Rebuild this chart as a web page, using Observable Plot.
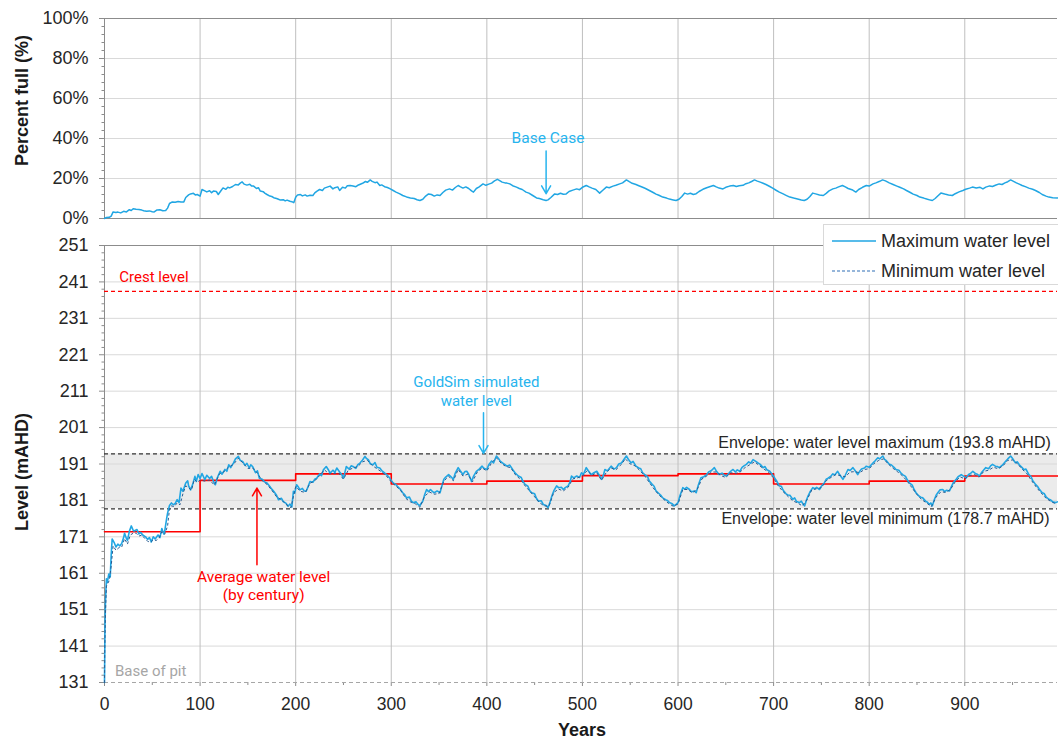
<!DOCTYPE html>
<html><head><meta charset="utf-8">
<script src="https://cdn.jsdelivr.net/npm/d3@7"></script>
<script src="https://cdn.jsdelivr.net/npm/@observablehq/plot@0.6"></script>
<style>
body{margin:0;background:#fff;}
#wrap{position:relative;width:1058px;height:740px;overflow:hidden;font-family:"Liberation Sans",Arial,sans-serif;}
#top{position:absolute;left:0;top:0;}
#bot{position:absolute;left:0;top:235px;}
#legend{position:absolute;left:823px;top:224px;width:240px;height:61px;background:#fff;border:1px solid #d9d9d9;box-sizing:border-box;}
#legend .row{position:absolute;left:8px;height:20px;display:flex;align-items:center;font-size:18px;color:#262626;white-space:nowrap;}
#legend svg{margin-right:5px;}
</style>
</head><body>
<div id="wrap"><div id="top"></div><div id="bot"></div>
<div id="legend">
<div class="row" style="top:6px"><svg width="44" height="6"><line x1="0" y1="3" x2="44" y2="3" stroke="#21a6e3" stroke-width="1.5"/></svg><span>Maximum water level</span></div>
<div class="row" style="top:36px"><svg width="44" height="6"><line x1="0" y1="3" x2="44" y2="3" stroke="#2e6fb5" stroke-width="1.2" stroke-dasharray="3,2"/></svg><span>Minimum water level</span></div>
</div>
</div>
<script>
// ---------- data ----------
const years = [
0,0.5,1,2,3,4.5,6,7,8,10,12,14,16,18,20,21,23,24,26,28,30,31,34,36,38,40,43,45,47,49,51,53,56,58,60,62,63,65,66,68,70,72,74,76,78,80,82,85,87,88,90,92,94.6,96,98,100,
102,105,107,110,112,114,116,118,121,123,126,128,130,132,135,137,140,142,144.5,147,149,151.5,153,155,158,160,162,165,168,170,173,175,177,180,182,185,187,190,192,194,196,197.6,199,
201,203,204.5,207,209,211,213,215,218,220,222,225,227,229,232,234,236,239,241,243,246,248,250,253,256,258,260,263,265,267,270,272.5,274,276,278,281,283,285,288,290,292,295,298,300,
302,305,307,309,312,314,316,319,321,323,326,328,330,331,333,335,337,339,341,343,345,348,351,353,355,357,360,362,365,367,370,372,375,377,379,381,384,386,389,392,395,397,400,
402,405,407,410,412,414,417,419,421,424,427,430,433,436,438,440,443,445,447,450,452,454,457,459,462,464,466,468,470,473,475,478,480,482,485,487,488.6,491,494,497,499,
501,504,506,509,512,515,517,520,522,523.5,526,530,533,535.6,538,540.8,543,546,548,551,553,556,559,561,563,566,568,570,573,575,577,580,582,584,587,589,591,594,596,598,600,
602,605,607,609,612,614,617,619,621,624,627,630,632,635,638,640,643,646,648,650.6,653,655,657.6,660,662,664.6,667,669,671.5,674,676,678.5,681,683.7,686,689,691,693,696,698,701,
703,706,708,710,713,715,717,720,722,724,727,729,731,732.5,734,736,738,741,743,745,748,750,753,755,757,760,762,764,767,769,772.5,775,777.8,780,783,785,788,790,792,795,797,800,
802,804,806,809,811,814.3,816,818,821,823,826,828,831,833,835,838,840,842,845,847,849,852,854,856,859,861,863,864.5,866,868,870,871.8,874,877,879,881,884,886,888,891,893,896.3,899,
901.4,904,906,908.4,911,913,915.4,918,920,922,925,927,929,932,934,936,939,941,943,945,948,950,953,955,957,960,962,964,967,969,971,974,976,978,981,983,985,988,990,992,995,997];
const maxLevel = [
131,146,153,159.5,158.5,160.8,160,166,170.4,169.5,168.2,169,168.5,169.2,170.8,172,170.5,170,172.5,174,172.8,172.6,173,171.8,172.2,171.5,171,170.3,170.8,169.6,171,170.4,171.5,170.8,173.3,171.8,172.6,176,177.5,179.6,180.3,179.8,180.2,181.2,180.4,184.4,183.5,185.8,186.4,185,183.9,185.2,187.6,186.2,188.1,187,
188.4,186.7,187.9,187,187.6,186.2,185.3,187.2,189,188.2,189.5,189,190.8,190,191.3,192.4,193.1,192,191.7,190.6,191.2,189.9,190.8,190.3,188.6,189.1,187.1,186.8,186,185.8,184.8,184.1,183.5,182.4,181.2,181.6,180.7,180.2,179.4,180,179.2,183.5,183,
185.3,184.6,183.9,184.3,183.6,183.5,184.8,186.2,186,186.8,187.1,188.3,187.8,189.4,190.3,189.5,188.5,189.3,188.7,189.9,188.8,188.2,187.1,190.3,189.6,190.5,190.3,189.8,190.8,191.2,192.1,193.1,192.5,192.2,191.1,190.8,191.4,190.1,189.9,189.2,188.8,188.1,187.3,186.5,
185.8,185.3,184.7,184.2,183.1,182.6,181.7,181.9,180.8,180.4,180.6,179.9,179.5,180.1,180.8,182.6,184,183.4,184,183.5,183.1,183.6,183.1,185,186.8,187.4,188.1,187.6,186.8,188.5,190,189.2,188.1,188.9,189,188.2,186.2,187.6,189,189.6,190.4,189.8,189.5,
190.8,191.8,191.3,193.2,192.6,191.8,191.2,190.8,190.4,190.7,189.5,188.4,187.7,187.3,186.1,185.4,184.9,183.6,183.1,182.8,181.5,180.8,180.9,179.9,179.6,179,180.4,182.2,183.6,185,184.5,184.6,184,184.5,185,186,187.7,187.2,187.7,187.3,188.6,
188.1,190,189.2,188.1,188.6,189,188.2,186.8,188,189.5,189.1,190.4,189.6,190,191,191.3,192.1,193.2,192.3,191.3,191.7,190.4,189.9,189.7,188.6,187.9,187.6,186.3,185.4,184.9,183.6,182.9,182.4,181.7,181.2,181,180.4,180.1,179.5,179.9,180.4,
182.3,184.5,184.1,184.6,184,183.4,183.6,183.1,185,187.2,187.5,188.1,188.8,189.2,190,189.1,188.1,188.5,188,187.7,188.4,189,189.5,188.8,189.4,189,190.1,190.5,190.9,191.6,191.2,192.2,191.8,191.3,190.9,190,190.3,189.4,189,188.3,187.2,
186.4,185,184.9,183.8,182.8,182.5,182.4,181.3,181.7,180.7,180.4,180.8,179.9,179.5,180.8,182.2,183.3,184.5,184.2,184.6,184,184.9,185.8,186.8,187.1,187.7,188.3,188,189,188.1,186.8,187.9,189.5,189.2,190,189.3,188.1,189,189.6,189.9,190.4,190.1,
190.7,191.3,191.8,192.7,192.4,193.2,192.3,191.9,190.9,190.8,190.1,189.5,189.3,188.6,188.1,187.6,186.6,185.8,185.2,184,183.1,182.2,181.9,181.7,180.8,180.5,179.9,180.3,179.5,181.1,182.4,183.1,183.9,184,183.4,183.8,183.6,184.8,185.9,186.8,187.5,188.1,187.6,
187.2,188.1,188.4,189,188.4,188.2,187.7,188.8,189.4,190,189.7,190.5,190.9,190.4,190.3,190,190.6,191.2,191.8,192.4,193.2,192.5,191.3,191.6,190.8,190,189.4,189.6,188.1,187.7,186.5,185.4,184.9,184.1,183.1,182.9,182,181.3,181.1,180.6,180.4,180.6];

const minYears = [
0,0.3,1,2,3,5,7,9,12,15,18,21,24,27,30,33,36,39,42,45,48,51,54,57,60,63,66,68,70,73,76,79,82,85,88,91,94,97,100,
105,110,115,120,125,130,135,140,145,150,155,160,165,170,175,180,185,190,195,200,
205,210,215,220,225,230,235,240,245,250,255,260,265,270,275,280,285,290,295,300,
305,310,315,320,325,330,335,340,345,350,355,360,365,370,375,380,385,390,395,400,
405,410,415,420,425,430,435,440,445,450,455,460,465,470,475,480,485,490,495,500,
505,510,515,520,525,530,535,540,545,550,555,560,565,570,575,580,585,590,595,600,
605,610,615,620,625,630,635,640,645,650,655,660,665,670,675,680,685,690,695,700,
705,710,715,720,725,730,735,740,745,750,755,760,765,770,775,780,785,790,795,800,
805,810,815,820,825,830,835,840,845,850,855,860,865,870,875,880,885,890,895,900,
905,910,915,920,925,930,935,940,945,950,955,960,965,970,975,980,985,990,995];
const minLevel = [
131,140,150,157.5,158,159,163,168.5,167.3,168,168.2,170.5,169,171.5,172,172,171.2,171.5,170.6,169.8,169.5,170.2,170,170.6,172.4,171.7,174,178.6,179.5,179.3,180.3,179.8,182.8,185,184.5,183.8,186.8,186,186.6,
186.3,186.6,185.2,188.2,188.9,190.2,190.9,192.6,191.2,189.8,189.9,188.5,186.4,185.4,183.8,182,181.2,179.9,179,184.8,
183.5,183.2,185.7,186.4,187.8,189.4,188.3,188.4,188.5,186.8,189.3,189.9,190.3,191.6,192,190.6,189.7,188.8,187.7,186.1,
184.9,183.7,181.6,180.6,180.1,179.1,182.2,183.3,182.7,182.9,186.3,187.6,186.4,189.5,187.7,188.2,186.1,188.8,189.9,189.1,
191.3,192.7,191.2,190.3,190,188,186.8,185,183.5,182,180.4,179.5,179.4,183.2,184.1,183.6,184.6,186.9,187.2,187.7,
189.2,187.9,188.6,186.5,188.7,189.9,189.4,190.7,192.4,191,190.5,189.2,187.8,185.9,184.1,182.5,181.3,180.2,179.4,180,
184,184,183.1,184,186.9,187.7,188.8,188.8,187.8,187.3,188.6,188.4,188.8,190,190.8,191.6,190.6,189.6,188.7,187.1,
184.9,183.4,182.1,180.9,180.3,179.5,181.2,183.9,184.2,184.5,186.4,187.3,188.1,187.8,187.5,188.8,188.9,188.6,189.5,189.7,
191.1,192,192.4,191,189.8,188.8,187.7,186.2,184.4,182.6,181.2,180.3,179.3,181.9,183.4,183.2,184,186.1,187.5,186.9,
187.8,188.1,187.4,189,189.3,190.1,189.7,190.5,192,192.1,191.1,189.6,188.3,186.4,184.6,183,181.6,180.7,180.1];

const pctYears = [
0,2,5,7,9,12,14,17,20,23,26,28,30,33,36,39,41,44,47,50,52,55,58,61,64,66,68,71,74,77,80,83,85,88,90,93,95,97,100,
102,105,107,110,112,114,117,119,122,124,127,129,131,134,137,140,142,144,146,149,152,154,156,159,161,163,166,168,170,173,175,177,180,182,184,187,189,191,194,196,198,
200,202,205,207,210,212,215,218,220,222,225,228,230,233,236,239,241,244,246,249,252,254,257,260,263,265,267,270,273,275,278,280,283,285,288,290,293,296,299,
302,305,309,312,316,320,324,327,330,333,336,339,342,345,348,351,354,357,361,364,367,370,372,375,378,381,384,386,389,392,396,399,
402,405,408,411,413,416,419,421,424,427,431,434,437,441,444,448,452,455,459,462,464,467,471,474,477,480,483,486,490,494,497,
500,504,507,510,514,518,521,525,528,532,535,539,542,546,549,552,556,559,563,566,570,574,577,580,584,588,591,595,598,
601,604,607,610,613,616,619,622,626,630,633,637,640,643,647,650,654,658,661,664,668,671,674,677,680,683,686,689,692,696,699,
703,706,710,713,717,721,725,729,732,735,738,741,744,748,752,755,758,762,765,768,772,775,778,782,786,789,793,797,
800,804,807,811,814,817,821,825,829,832,836,839,843,846,850,853,857,861,864,866,869,872,875,879,883,887,890,894,898,
901,905,908,912,916,919,922,926,929,932,936,939,942,945,948,951,954,957,960,964,967,971,974,978,981,985,988,992,997];
const pctFull = [
0,0.5,0.6,1.2,3.3,3.0,3.2,2.8,3.6,3.3,4.4,4.0,4.9,4.6,4.5,4.2,3.9,3.6,3.8,3.4,3.3,4.3,4.4,3.9,4.0,5.2,7.5,8.3,8.1,8.5,8.2,8.3,10.5,11.8,12.3,12.6,11.8,12.0,11.2,
14.5,13.8,13.3,13.9,12.9,13.7,13.5,12.0,14.0,15.3,14.6,15.6,15.3,16.0,17.0,16.8,17.7,18.3,17.2,16.7,17.1,16.2,16.2,15.0,15.4,13.7,13.4,12.6,12.0,11.2,11.0,10.4,10.0,9.6,9.2,9.4,8.8,9.2,8.6,8.4,7.9,
10.6,11.8,12.0,11.3,11.8,11.2,11.6,11.5,12.8,13.6,14.5,14.0,15.2,15.7,16.2,14.8,15.4,15.8,14.0,15.6,15.2,16.4,16.5,16.2,15.9,16.6,17.0,17.6,18.5,18.1,19.3,18.6,17.9,18.2,16.5,16.8,15.9,15.5,14.8,
14.0,13.2,12.3,11.5,10.8,10.3,10.0,9.4,9.0,9.6,11.2,12.3,12.0,11.2,11.8,11.5,13.0,14.2,14.8,14.2,15.5,16.5,15.9,15.2,15.8,15.0,13.8,13.2,15.0,15.8,17.3,16.6,
17.2,17.7,18.8,19.6,19.1,18.2,17.8,17.7,17.3,16.4,15.7,15.0,14.5,13.2,12.7,11.5,10.3,10.0,9.4,9.0,9.3,10.5,12.3,12.0,12.6,12.1,12.3,13.5,14.2,14.8,14.4,
15.6,16.5,15.8,15.2,14.5,12.7,14.0,15.7,15.4,16.2,16.6,17.3,17.8,19.3,18.4,17.6,17.0,16.4,15.6,15.0,14.0,13.0,12.2,11.6,10.7,10.2,9.7,9.3,9.0,
9.6,11.0,12.7,12.2,12.6,12.0,12.4,13.5,14.6,15.4,15.9,16.5,15.8,15.2,14.8,15.6,16.2,16.5,16.0,16.4,16.6,17.4,17.8,18.5,19.3,18.7,18.2,17.6,17.0,16.0,15.2,
14.0,13.2,12.3,11.6,10.7,10.2,9.8,9.3,9.0,9.6,11.0,12.7,12.3,11.8,11.5,12.6,13.8,14.8,15.2,15.8,16.5,15.8,15.0,14.4,13.2,14.5,15.6,16.5,
16.2,17.3,17.8,18.6,19.3,18.8,17.8,17.0,16.2,15.6,14.8,14.0,13.0,12.2,11.5,10.7,10.2,9.6,9.2,9.0,10.0,11.4,12.7,12.2,11.8,11.5,12.4,13.3,14.0,
14.6,15.2,15.7,15.2,15.6,14.8,15.7,16.3,16.0,16.6,17.3,17.0,17.8,18.4,19.3,18.6,17.8,17.2,16.5,15.8,15.2,14.6,14.0,13.0,12.0,11.2,10.7,10.4,10.3];

const centuryStart = [0,100,200,300,400,500,600,700,800,900];
const centuryAvg   = [172.4,186.5,188.3,185.5,186.3,187.8,188.3,185.5,186.3,187.7];
const yearEnd = 997;
const crestLevel = 238.4, envMax = 193.8, envMin = 178.7, basePit = 131;

const xTicks = [0,100,200,300,400,500,600,700,800,900];
const xMinor = [50,150,250,350,450,550,650,750,850,950];
const pctTicks = [0,20,40,60,80,100];
const pctMinor = [4,8,12,16,24,28,32,36,44,48,52,56,64,68,72,76,84,88,92,96];
const levelTicks = [131,141,151,161,171,181,191,201,211,221,231,241,251];
const levelMinor = [133,135,137,139,143,145,147,149,153,155,157,159,163,165,167,169,173,175,177,179,183,185,187,189,193,195,197,199,203,205,207,209,213,215,217,219,223,225,227,229,233,235,237,239,243,245,247,249];

// ---------- tables ----------
const zip = (xs, ys) => xs.slice(0, Math.min(xs.length, ys.length)).map((x, i) => ({x, y: ys[i]}));
const maxData = zip(years, maxLevel);
const minData = zip(minYears, minLevel);
const pctData = zip(pctYears, pctFull);
const avgData = zip(centuryStart, centuryAvg).concat([{x: yearEnd, y: centuryAvg[centuryAvg.length - 1]}]);

const FONT = "Liberation Sans, Arial, sans-serif";
const ANN = "Roboto, Liberation Sans, sans-serif";
const BLUE = "#21a6e3", CYAN = "#27b4ee", NAVY = "#2a5c92";
const GRIDH = "#d9d9d9", GRIDV = "#bfbfbf", AXIS = "#8c8c8c";

// ---------- top panel ----------
const topPlot = Plot.plot({
  width: 1058, height: 235,
  marginLeft: 104, marginRight: 1, marginTop: 18, marginBottom: 17,
  x: {domain: [0, yearEnd], axis: null},
  y: {domain: [0, 100], axis: null},
  style: {fontFamily: FONT, fontSize: "18px", color: "#333", background: "transparent", overflow: "visible"},
  marks: [
    Plot.gridY(pctTicks.slice(1, -1), {stroke: GRIDH, strokeOpacity: 1}),
    Plot.gridX(xTicks.slice(1), {stroke: GRIDV, strokeOpacity: 1}),
    Plot.ruleY([0, 100], {stroke: AXIS}),
    Plot.ruleX([0], {stroke: AXIS}),
    Plot.axisY(pctTicks, {tickSize: 5, tickPadding: 11, stroke: AXIS, tickFormat: d => d + "%", label: null, fill: "#262626", fontSize: 18}),
    Plot.axisY(pctMinor, {tickSize: 2.5, stroke: AXIS, tickFormat: () => "", label: null}),
    Plot.text(["Percent full (%)"], {text: d => d, frameAnchor: "left", textAnchor: "middle", dx: -82, dy: -18, rotate: -90, fontWeight: "bold", fontSize: 18, fill: "#1a1a1a"}),
    Plot.line(pctData, {x: "x", y: "y", stroke: BLUE, strokeWidth: 1.5}),
    Plot.arrow([{x: 462, y1: 33.7, y2: 12.4}], {x1: "x", x2: "x", y1: "y1", y2: "y2", stroke: CYAN, strokeWidth: 1.5, headLength: 9}),
    Plot.text([{x: 464, y: 40, t: "Base Case"}], {x: "x", y: "y", text: "t", fill: CYAN, fontFamily: ANN, fontSize: 15.5})
  ]
});
document.getElementById("top").appendChild(topPlot);

// ---------- bottom panel ----------
const botPlot = Plot.plot({
  width: 1058, height: 505,
  marginLeft: 104, marginRight: 1, marginTop: 10, marginBottom: 58,
  x: {domain: [0, yearEnd], axis: null},
  y: {domain: [131, 251], axis: null},
  style: {fontFamily: FONT, fontSize: "18px", color: "#333", background: "transparent", overflow: "visible"},
  marks: [
    Plot.rect([{x1: 0, x2: yearEnd, y1: envMin, y2: envMax}], {x1: "x1", x2: "x2", y1: "y1", y2: "y2", fill: "#ebebeb"}),
    Plot.gridY(levelTicks.slice(1, -1), {stroke: GRIDH, strokeOpacity: 1}),
    Plot.gridX(xTicks.slice(1), {stroke: GRIDV, strokeOpacity: 1}),
    Plot.ruleY([251], {stroke: AXIS}),
    Plot.ruleX([0], {stroke: AXIS}),
    Plot.axisY(levelTicks, {tickSize: 5, tickPadding: 11, stroke: AXIS, label: null, fill: "#262626", fontSize: 18}),
    Plot.axisY(levelMinor, {tickSize: 2.5, stroke: AXIS, tickFormat: () => "", label: null}),
    Plot.axisX(xTicks, {tickSize: 4, tickPadding: 11, stroke: AXIS, label: null, fill: "#262626", fontSize: 17.5}),
    Plot.axisX(xMinor, {tickSize: 3, stroke: AXIS, tickFormat: () => "", label: null}),
    Plot.text(["Level (mAHD)"], {text: d => d, frameAnchor: "left", textAnchor: "middle", dx: -82, dy: 8, rotate: -90, fontWeight: "bold", fontSize: 18, fill: "#1a1a1a"}),
    Plot.text(["Years"], {text: d => d, frameAnchor: "bottom", dx: 1, dy: 53, fontWeight: "bold", fontSize: 18, fill: "#1a1a1a"}),
    Plot.ruleY([basePit], {stroke: "#a6a6a6", strokeDasharray: "4,3", strokeWidth: 1.2}),
    Plot.ruleY([crestLevel], {stroke: "#ff0000", strokeDasharray: "4,3", strokeWidth: 1.2}),
    Plot.ruleY([envMax, envMin], {stroke: "#333", strokeDasharray: "4,3", strokeWidth: 1.2}),
    Plot.line(avgData, {x: "x", y: "y", curve: "step-after", stroke: "#ff0000", strokeWidth: 1.6}),
    Plot.line(maxData, {x: "x", y: "y", stroke: BLUE, strokeWidth: 1.6}),
    Plot.line(minData, {x: "x", y: "y", stroke: NAVY, strokeWidth: 1, strokeDasharray: "2,3"}),
    // annotations
    Plot.text([{x: 15.5, y: 242.3, t: "Crest level"}], {x: "x", y: "y", text: "t", textAnchor: "start", fill: "#ff0000", fontFamily: ANN, fontSize: 15}),
    Plot.text([{x: 11, y: 134.0, t: "Base of pit"}], {x: "x", y: "y", text: "t", textAnchor: "start", fill: "#a6a6a6", fontFamily: ANN, fontSize: 15}),
    Plot.text([{x: 389, y: 213.4, t: "GoldSim simulated"}, {x: 389, y: 208.3, t: "water level"}], {x: "x", y: "y", text: "t", fill: CYAN, fontFamily: ANN, fontSize: 15}),
    Plot.arrow([{x: 396.5, y1: 205.1, y2: 193.9}], {x1: "x", x2: "x", y1: "y1", y2: "y2", stroke: CYAN, strokeWidth: 1.5, headLength: 9}),
    Plot.text([{x: 166.5, y: 160.0, t: "Average water level"}, {x: 166.5, y: 154.9, t: "(by century)"}], {x: "x", y: "y", text: "t", fill: "#ff0000", fontFamily: ANN, fontSize: 15.5}),
    Plot.arrow([{x: 159.5, y1: 163.3, y2: 184.4}], {x1: "x", x2: "x", y1: "y1", y2: "y2", stroke: "#ff0000", strokeWidth: 1.5, headLength: 9}),
    Plot.text([{x: 816, y: 196.9, t: "Envelope: water level maximum (193.8 mAHD)"}, {x: 817, y: 175.8, t: "Envelope: water level minimum (178.7 mAHD)"}], {x: "x", y: "y", text: "t", fill: "#262626", fontFamily: FONT, fontSize: 16})
  ]
});
document.getElementById("bot").appendChild(botPlot);
</script>
</body></html>
